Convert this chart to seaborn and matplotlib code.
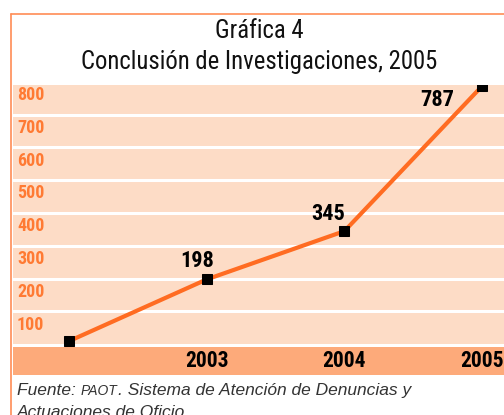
import pandas as pd
import matplotlib.pyplot as plt
import seaborn as sns
from matplotlib.lines import Line2D

# Datos
years = [2002, 2003, 2004, 2005]
values = [10, 198, 345, 787]
year_labels = ["2003", "2004", "2005"]
band_ticks = [100, 200, 300, 400, 500, 600, 700, 800]

df = pd.DataFrame({"year": years, "value": values})

sns.set_style("white")
narrow = ["Roboto Condensed", "DejaVu Sans"]
plt.rcParams["font.family"] = narrow

orange = "#ff6c22"
band_light = "#fddcc6"
band_dark = "#fdaa7a"
border = "#ff8c55"

fig = plt.figure(figsize=(5.04, 4.15), dpi=100)
ax = fig.add_axes([12.5 / 504, 40 / 415, 1 - 12.5 / 504, 290 / 415])
ax.set_facecolor(band_light)

# franjas
ax.axhspan(-95, -8, color=band_dark, lw=0, zorder=0)
ax.axhspan(-8, 1.5, color="white", lw=0, zorder=0.5)
for v in band_ticks[:-1]:
    ax.axhline(v, color="white", lw=2.2, zorder=0.5)

sns.lineplot(data=df, x="year", y="value", ax=ax, color=orange, lw=3,
             marker="s", markersize=7.5, markerfacecolor="black",
             markeredgecolor="black", zorder=3)

ax.set_xlim(2001.5875, 2005.16)
ax.set_ylim(-93.6, 790.5)
ax.set_xticks([])
ax.set_yticks([])
ax.set_xlabel("")
ax.set_ylabel("")
for s in ax.spines.values():
    s.set_visible(False)

# etiquetas del eje y dentro de las franjas
for v in band_ticks:
    ax.text(4.5 / 491.5, v - 40, str(v), transform=ax.get_yaxis_transform(),
            color="#ff7a33", fontsize=13, fontweight="bold",
            ha="left", va="center")

# etiquetas del eje x
for yr, lab in zip(years[1:], year_labels):
    ax.text(yr, -52, lab, color="black", fontsize=15.5, fontweight="bold",
            ha="center", va="center")

# valores
offsets = {1: (-7, 13), 2: (-11.5, 12), 3: (-32, -10)}
for i, (dx, dy) in offsets.items():
    ax.annotate(str(values[i]), (years[i], values[i]), xytext=(dx, dy),
                textcoords="offset points", ha="center", va="center",
                fontsize=16, fontweight="bold", color="black")

# titulo
fig.text(259 / 504, 1 - 31 / 415, "Gráfica 4", ha="center", va="center",
         fontsize=17.8, color="#111111")
fig.text(259 / 504, 1 - 62 / 415, "Conclusión de Investigaciones, 2005",
         ha="center", va="center", fontsize=17.8, color="#111111")

# borde
fig.add_artist(Line2D([10.5 / 504, 10.5 / 504], [0, 1 - 14 / 415],
                      transform=fig.transFigure, color=border, lw=1.2))
fig.add_artist(Line2D([10.5 / 504, 1], [1 - 14 / 415, 1 - 14 / 415],
                      transform=fig.transFigure, color=border, lw=1.2))

# fuente
foot = dict(fontsize=12.5, style="italic", color="#333333",
            family=["Liberation Sans", "DejaVu Sans"])
t1 = fig.text(17 / 504, 1 - 395 / 415, "Fuente: ", va="baseline", **foot)
t2 = ax.annotate("PAOT", xy=(1, 0), xycoords=t1, va="bottom",
                 fontsize=10, style="italic", color="#333333",
                 family=["Liberation Sans", "DejaVu Sans"],
                 annotation_clip=False)
ax.annotate(". Sistema de Atención de Denuncias y", xy=(1, 0), xycoords=t2,
            va="bottom", annotation_clip=False, **foot)
fig.text(17 / 504, 1 - 417 / 415, "Actuaciones de Oficio", va="baseline",
         **foot)

plt.savefig("out.png", dpi=100)
